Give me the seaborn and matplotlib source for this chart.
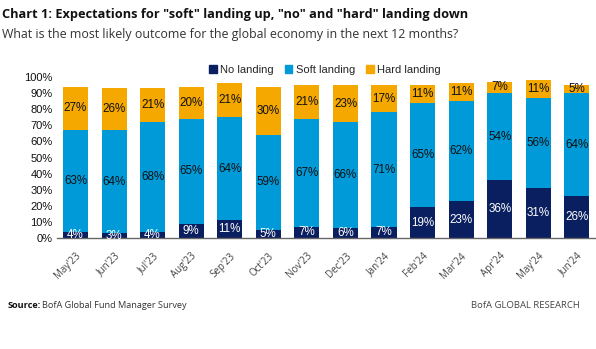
import matplotlib
matplotlib.use("Agg")
import matplotlib.pyplot as plt
from matplotlib.patches import Patch
import seaborn as sns
import pandas as pd

months = ["May'23", "Jun'23", "Jul'23", "Aug'23", "Sep'23", "Oct'23", "Nov'23",
          "Dec'23", "Jan'24", "Feb'24", "Mar'24", "Apr'24", "May'24", "Jun'24"]
no_landing = [4, 3, 4, 9, 11, 5, 7, 6, 7, 19, 23, 36, 31, 26]
soft_landing = [63, 64, 68, 65, 64, 59, 67, 66, 71, 65, 62, 54, 56, 64]
hard_landing = [27, 26, 21, 20, 21, 30, 21, 23, 17, 11, 11, 7, 11, 5]
y_ticks = list(range(0, 101, 10))

c_no = "#0a1f5f"
c_soft = "#009ad9"
c_hard = "#f4a800"

sns.set_style("white")
plt.rcParams["font.family"] = ["Liberation Sans", "DejaVu Sans"]
OPEN = ["Open Sans", "DejaVu Sans"]

df = pd.DataFrame({"month": months, "no": no_landing, "soft": soft_landing, "hard": hard_landing})
df["s1"] = df["no"]
df["s2"] = df["no"] + df["soft"]
df["s3"] = df["s2"] + df["hard"]

fig = plt.figure(figsize=(5.96, 3.49), dpi=100)
ax = fig.add_axes([0.0956, 0.318, 0.9027, 0.4613])

for col, colr in [("s3", c_hard), ("s2", c_soft), ("s1", c_no)]:
    sns.barplot(data=df, x="month", y=col, color=colr, width=0.65, ax=ax,
                saturation=1, linewidth=0, order=months)

for i in range(len(months)):
    n, s, h = no_landing[i], soft_landing[i], hard_landing[i]
    ax.text(i, n / 2, f"{n}%", ha="center", va="center", color="white", fontsize=8.4)
    ax.text(i, n + s / 2, f"{s}%", ha="center", va="center", color="#111111", fontsize=8.4)
    ax.text(i, n + s + h / 2, f"{h}%", ha="center", va="center", color="#111111", fontsize=8.4)

ax.set_ylim(0, 100)
ax.set_xlim(-0.48, 13.47)
ax.set_yticks(y_ticks)
ax.set_yticklabels([f"{t}%" for t in y_ticks], fontsize=8, color="#111111")
ax.set_xticks(range(len(months)))
ax.set_xticklabels(months, rotation=45, ha="right", rotation_mode="anchor",
                   fontsize=7, color="#444444", family=OPEN)
ax.tick_params(axis="both", length=0, pad=3)
ax.tick_params(axis="x", pad=9)
ax.set_xlabel("")
ax.set_ylabel("")
for sp in ["top", "right", "left"]:
    ax.spines[sp].set_visible(False)
ax.spines["bottom"].set_color("#666666")
ax.spines["bottom"].set_linewidth(1.0)

handles = [Patch(color=c_no, label="No landing"),
           Patch(color=c_soft, label="Soft landing"),
           Patch(color=c_hard, label="Hard landing")]
fig.legend(handles=handles, loc="center left", bbox_to_anchor=(0.343, 0.8),
           ncol=3, frameon=False, fontsize=8, handlelength=0.7, handleheight=0.7,
           handletextpad=0.3, columnspacing=1.0, borderaxespad=0)

fig.text(0.004, 0.958, 'Chart 1: Expectations for "soft" landing up, "no" and "hard" landing down',
         fontsize=9.2, fontweight="bold", color="#111111", va="center", family=OPEN)
fig.text(0.004, 0.9, "What is the most likely outcome for the global economy in the next 12 months?",
         fontsize=8.9, color="#333333", va="center", family=OPEN)
src = fig.text(0.013, 0.126, "Source:", fontsize=6.6, fontweight="bold", color="#111111",
               va="center", family=OPEN)
fig.canvas.draw()
bb = src.get_window_extent(renderer=fig.canvas.get_renderer())
x2 = (bb.x1 + 1.5) / fig.bbox.width
fig.text(x2, 0.126, "BofA Global Fund Manager Survey", fontsize=6.6, color="#333333",
         va="center", family=OPEN)
fig.text(0.973, 0.126, "BofA GLOBAL RESEARCH", fontsize=6.8, color="#444444", va="center",
         ha="right", family=OPEN)

fig.savefig("out.png", dpi=100)
